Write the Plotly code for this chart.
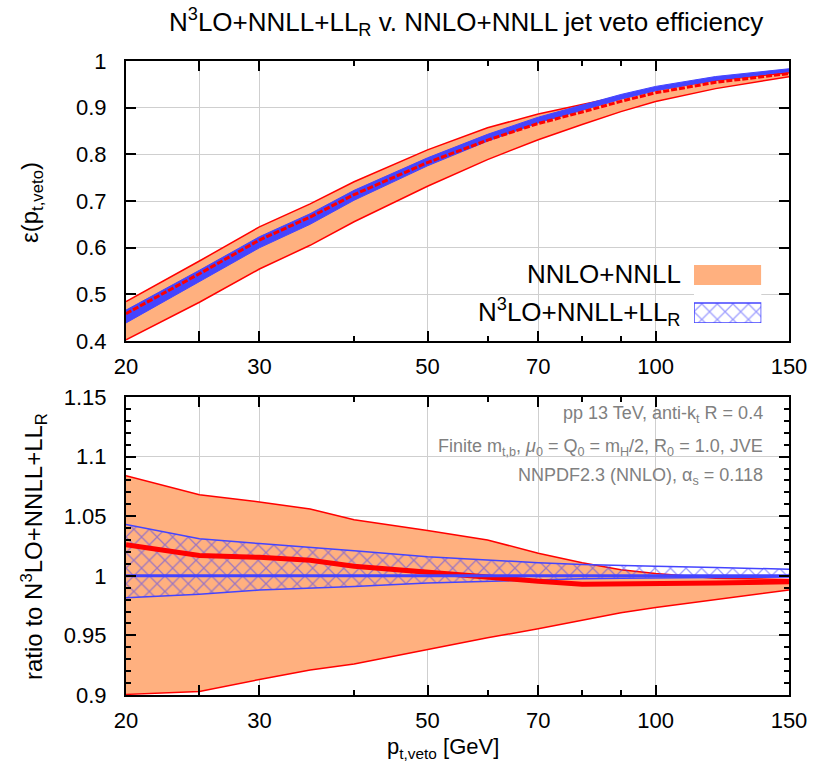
import plotly.graph_objects as go

# ---- data -----------------------------------------------------------------
pt_veto = [20, 25, 30, 35, 40, 50, 60, 70, 80, 90, 100, 120, 150]

# N3LO+NNLL+LL_R central jet veto efficiency
eff_n3lo = [0.447, 0.535, 0.607, 0.657, 0.708, 0.780, 0.832, 0.870, 0.897, 0.920, 0.938, 0.960, 0.978]

# band edges and NNLO+NNLL central value, as ratios to the N3LO+NNLL+LL_R central value
n3lo_hi = [1.043, 1.031, 1.027, 1.024, 1.021, 1.016, 1.013, 1.011, 1.0095, 1.009, 1.008, 1.007, 1.0055]
n3lo_lo = [0.9815, 0.9845, 0.988, 0.9895, 0.991, 0.994, 0.9955, 0.997, 0.9975, 0.998, 0.998, 0.9985, 0.999]
nnlo_c = [1.026, 1.017, 1.0155, 1.013, 1.008, 1.003, 0.998, 0.9955, 0.993, 0.993, 0.9935, 0.994, 0.995]
nnlo_hi = [1.084, 1.068, 1.062, 1.056, 1.047, 1.038, 1.030, 1.019, 1.011, 1.005, 1.002, 0.998, 0.997]
nnlo_lo = [0.9005, 0.903, 0.913, 0.921, 0.926, 0.938, 0.948, 0.9555, 0.963, 0.969, 0.9735, 0.980, 0.988]

x_tickvals = [20, 25, 30, 50, 70, 100, 150]
x_ticktext = ["20", "", "30", "50", "70", "100", "150"]
x_minor = [40, 60, 80, 90]

top_ticks = [0.4, 0.5, 0.6, 0.7, 0.8, 0.9, 1.0]
top_ticktext = ["0.4", "0.5", "0.6", "0.7", "0.8", "0.9", "1"]
bot_ticks = [0.9, 0.95, 1.0, 1.05, 1.1, 1.15]
bot_ticktext = ["0.9", "0.95", "1", "1.05", "1.1", "1.15"]

# ---- styling ------------------------------------------------------------------
ORANGE = "#ffb07f"
RED = "#ff0000"
BLUE = "#4444ff"
HATCH_BLUE = "#3c3cff"
GREY_TXT = "#808080"
FONT = "Liberation Sans, Arial, Helvetica, sans-serif"

W, H = 819, 770
M_L, M_R, M_T, M_B = 126, 23, 61, 75
PLOT_H = H - M_T - M_B


def py(pix):
    """paper y coordinate of a pixel row"""
    return (H - M_B - pix) / PLOT_H


def px(pix):
    """paper x coordinate of a pixel column"""
    return (pix - M_L) / (W - M_L - M_R)


hatch = dict(shape="x", fgcolor=HATCH_BLUE, bgcolor="rgba(0,0,0,0)", size=11,
             solidity=0.22, fillmode="overlay")

# absolute efficiencies for the upper panel
abs_n3lo_hi = [r * c for r, c in zip(n3lo_hi, eff_n3lo)]
abs_n3lo_lo = [r * c for r, c in zip(n3lo_lo, eff_n3lo)]
abs_nnlo_hi = [r * c for r, c in zip(nnlo_hi, eff_n3lo)]
abs_nnlo_lo = [r * c for r, c in zip(nnlo_lo, eff_n3lo)]
abs_nnlo_c = [r * c for r, c in zip(nnlo_c, eff_n3lo)]
unit = [1.0 for _ in pt_veto]

fig = go.Figure()

# ---- upper panel: efficiency ----------------------------------------------------
fig.add_trace(go.Scatter(x=pt_veto, y=abs_nnlo_lo, mode="lines", line=dict(color=RED, width=1.5),
                         xaxis="x", yaxis="y", showlegend=False, hoverinfo="skip"))
fig.add_trace(go.Scatter(x=pt_veto, y=abs_nnlo_hi, mode="lines", line=dict(color=RED, width=1.5),
                         fill="tonexty", fillcolor=ORANGE,
                         xaxis="x", yaxis="y", showlegend=False, hoverinfo="skip"))
fig.add_trace(go.Scatter(x=pt_veto, y=abs_n3lo_lo, mode="lines", line=dict(color=BLUE, width=1),
                         xaxis="x", yaxis="y", showlegend=False, hoverinfo="skip"))
fig.add_trace(go.Scatter(x=pt_veto, y=abs_n3lo_hi, mode="lines", line=dict(color=BLUE, width=1),
                         fill="tonexty", fillcolor=BLUE,
                         xaxis="x", yaxis="y", showlegend=False, hoverinfo="skip"))
fig.add_trace(go.Scatter(x=pt_veto, y=abs_nnlo_c, mode="lines",
                         line=dict(color=RED, width=3, dash="6px,2px"),
                         xaxis="x", yaxis="y", showlegend=False, hoverinfo="skip"))

# ---- lower panel: ratio -----------------------------------------------------------
fig.add_trace(go.Scatter(x=pt_veto, y=nnlo_lo, mode="lines", line=dict(color=RED, width=1.5),
                         xaxis="x2", yaxis="y2", showlegend=False, hoverinfo="skip"))
fig.add_trace(go.Scatter(x=pt_veto, y=nnlo_hi, mode="lines", line=dict(color=RED, width=1.5),
                         fill="tonexty", fillcolor=ORANGE,
                         xaxis="x2", yaxis="y2", showlegend=False, hoverinfo="skip"))
fig.add_trace(go.Scatter(x=pt_veto, y=n3lo_lo, mode="lines", line=dict(color=BLUE, width=1.5),
                         xaxis="x2", yaxis="y2", showlegend=False, hoverinfo="skip"))
fig.add_trace(go.Scatter(x=pt_veto, y=n3lo_hi, mode="lines", line=dict(color=BLUE, width=1.5),
                         fill="tonexty", fillcolor="rgba(0,0,0,0)", fillpattern=hatch,
                         xaxis="x2", yaxis="y2", showlegend=False, hoverinfo="skip"))
fig.add_trace(go.Scatter(x=pt_veto, y=nnlo_c, mode="lines", line=dict(color=RED, width=5),
                         xaxis="x2", yaxis="y2", showlegend=False, hoverinfo="skip"))
fig.add_trace(go.Scatter(x=pt_veto, y=unit, mode="lines", line=dict(color=BLUE, width=3),
                         xaxis="x2", yaxis="y2", showlegend=False, hoverinfo="skip"))

# ---- legend swatches (drawn on their own small axes) ------------------------------
fig.add_trace(go.Scatter(x=[0, 1, 1, 0, 0], y=[0.655, 0.655, 1, 1, 0.655], mode="lines",
                         line=dict(width=0, color=ORANGE), fill="toself", fillcolor=ORANGE,
                         xaxis="x3", yaxis="y3", showlegend=False, hoverinfo="skip"))
fig.add_trace(go.Scatter(x=[0, 1, 1, 0, 0], y=[0, 0, 0.345, 0.345, 0], mode="lines",
                         line=dict(width=1.5, color=BLUE), fill="toself",
                         fillcolor="rgba(0,0,0,0)", fillpattern=hatch,
                         xaxis="x3", yaxis="y3", showlegend=False, hoverinfo="skip"))

axis_common = dict(
    showline=True, linecolor="black", linewidth=2, mirror="allticks",
    ticks="inside", tickcolor="black", tickwidth=1.5, ticklen=10,
    showgrid=True, gridcolor="#cfcfcf", gridwidth=1, zeroline=False,
    tickfont=dict(family=FONT, size=22, color="black"),
)

xaxis_common = dict(axis_common, type="log", range=[1.30103, 2.176091],
                    tickmode="array", tickvals=x_tickvals, ticktext=x_ticktext,
                    ticklabelstandoff=5,
                    minor=dict(tickmode="array", tickvals=x_minor, ticks="inside",
                               ticklen=5, tickcolor="black", tickwidth=1.5, showgrid=False))

TOP_DOM = [py(341), 1.0]
BOT_DOM = [0.0, py(397)]

fig.update_layout(
    width=W, height=H, autosize=False,
    margin=dict(l=M_L, r=M_R, t=M_T, b=M_B),
    paper_bgcolor="white", plot_bgcolor="white",
    font=dict(family=FONT, color="black"),
    xaxis=dict(xaxis_common, domain=[0, 1], anchor="y"),
    yaxis=dict(axis_common, domain=TOP_DOM, anchor="x", range=[0.4, 1.0],
               tickmode="array", tickvals=top_ticks, ticktext=top_ticktext,
               ticklabelstandoff=13),
    xaxis2=dict(xaxis_common, domain=[0, 1], anchor="y2"),
    yaxis2=dict(axis_common, domain=BOT_DOM, anchor="x2", range=[0.9, 1.15],
                tickmode="array", tickvals=bot_ticks, ticktext=bot_ticktext,
                ticklabelstandoff=13,
                minor=dict(dtick=0.01, tick0=0.9, ticks="inside", ticklen=5,
                           tickcolor="black", tickwidth=1.5, showgrid=False)),
    xaxis3=dict(domain=[px(700), px(768)], range=[0, 1], visible=False, anchor="y3",
                fixedrange=True),
    yaxis3=dict(domain=[py(323), py(265)], range=[0, 1], visible=False, anchor="x3",
                fixedrange=True),
)

annotations = [
    # title
    dict(text="N<sup>3</sup>LO+NNLL+LL<sub>R</sub> v. NNLO+NNLL jet veto efficiency",
         x=px(470), y=py(22), font=dict(size=26)),
    # axis titles
    dict(text="ε(p<sub>t,veto</sub>)", x=px(30), y=py(203), textangle=-90, font=dict(size=24)),
    dict(text="ratio to N<sup>3</sup>LO+NNLL+LL<sub>R</sub>", x=px(33), y=py(546),
         textangle=-90, font=dict(size=24)),
    dict(text="p<sub>t,veto</sub> [GeV]", x=px(446), y=py(748), font=dict(size=22)),
    # legend labels
    dict(text="NNLO+NNLL", x=px(689), y=py(274), xanchor="right", font=dict(size=26)),
    dict(text="N<sup>3</sup>LO+NNLL+LL<sub>R</sub>", x=px(689), y=py(312), xanchor="right",
         font=dict(size=26)),
    # run settings
    dict(text="pp 13 TeV, anti-k<sub>t</sub> R = 0.4", x=px(772), y=py(414), xanchor="right",
         font=dict(size=18, color=GREY_TXT)),
    dict(text="Finite m<sub>t,b</sub>, <i>μ</i><sub>0</sub> = Q<sub>0</sub> = m<sub>H</sub>/2, "
              "R<sub>0</sub> = 1.0, JVE", x=px(772), y=py(447), xanchor="right",
         font=dict(size=18, color=GREY_TXT)),
    dict(text="NNPDF2.3 (NNLO), α<sub>s</sub> = 0.118", x=px(772), y=py(477), xanchor="right",
         font=dict(size=18, color=GREY_TXT)),
]
for a in annotations:
    a.setdefault("xanchor", "center")
    a.update(xref="paper", yref="paper", yanchor="middle", showarrow=False)
    a["font"] = dict(dict(family=FONT, color="black"), **a["font"])
fig.update_layout(annotations=annotations)

fig.write_html("out.html")
